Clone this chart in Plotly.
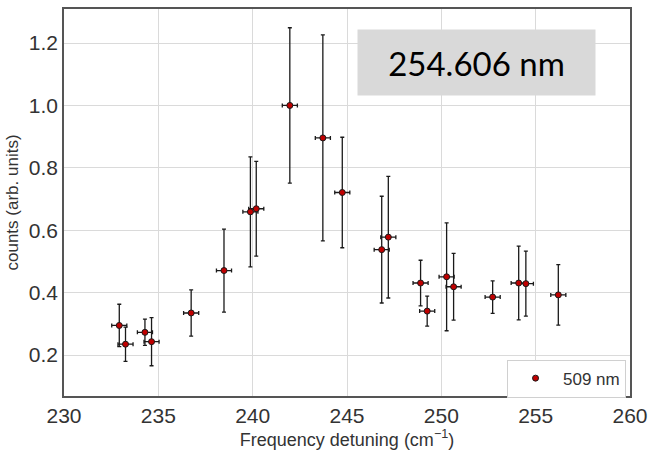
import plotly.graph_objects as go

# Data
detuning = [232.93, 233.26, 234.29, 234.64, 236.74, 238.48, 239.88, 240.19, 241.97,
            243.72, 244.75, 246.84, 247.19, 248.90, 249.25, 250.28, 250.65, 252.72,
            254.10, 254.48, 256.20]
counts = [0.295, 0.235, 0.273, 0.243, 0.335, 0.471, 0.659, 0.669, 1.000,
          0.896, 0.721, 0.538, 0.578, 0.431, 0.341, 0.451, 0.419, 0.386,
          0.431, 0.429, 0.393]
counts_err = [0.068, 0.055, 0.042, 0.077, 0.074, 0.133, 0.176, 0.152, 0.249,
              0.330, 0.177, 0.171, 0.195, 0.073, 0.048, 0.173, 0.107, 0.052,
              0.118, 0.104, 0.097]
detuning_err = [0.4] * len(detuning)

x_ticks = [230, 235, 240, 245, 250, 255, 260]
y_ticks = [0.2, 0.4, 0.6, 0.8, 1.0, 1.2]
series_name = "509 nm"
box_label = "254.606 nm"

FONT = "Liberation Sans, Arial, sans-serif"
TXT = "#333333"

fig = go.Figure()
fig.add_trace(go.Scatter(
    x=detuning, y=counts, mode="markers", name=series_name,
    marker=dict(color="#c00000", size=6, line=dict(color="#1a1a1a", width=1)),
    error_y=dict(type="data", array=counts_err, color="#1a1a1a", thickness=1.3, width=2),
    error_x=dict(type="data", array=detuning_err, color="#1a1a1a", thickness=1.3, width=2),
))

fig.update_layout(
    width=655, height=451,
    margin=dict(l=64, r=18, t=7, b=44),
    paper_bgcolor="white", plot_bgcolor="white",
    font=dict(family=FONT, color=TXT),
    showlegend=True,
    legend=dict(
        x=0.993, y=0.045, xanchor="right", yanchor="middle",
        bgcolor="white", bordercolor="#d0d0d0", borderwidth=1,
        font=dict(family=FONT, size=17, color=TXT),
        itemwidth=45,
    ),
    annotations=[dict(
        x=0.7286, y=0.861, xref="paper", yref="paper",
        xanchor="center", yanchor="middle",
        text=box_label, showarrow=False,
        font=dict(family="Lato, Open Sans, sans-serif", size=33, color="black"),
        bgcolor="#d9d9d9", borderpad=0, width=237, height=65,
    )],
)

fig.update_xaxes(
    range=[230, 260], tickvals=x_ticks, ticktext=[str(v) for v in x_ticks],
    showgrid=True, gridcolor="#dadada", gridwidth=1.2,
    showline=True, mirror=True, linecolor="#555555", linewidth=1.5,
    ticks="", zeroline=False,
    tickfont=dict(family=FONT, size=21, color=TXT),
    title=dict(text="Frequency detuning (cm<sup>−1</sup>)",
               font=dict(family=FONT, size=18, color=TXT), standoff=4),
)
fig.update_yaxes(
    range=[0.069, 1.309], tickvals=y_ticks, ticktext=[f"{v:.1f}" for v in y_ticks],
    showgrid=True, gridcolor="#dadada", gridwidth=1.2,
    showline=True, mirror=True, linecolor="#555555", linewidth=1.5,
    ticks="", zeroline=False,
    tickfont=dict(family=FONT, size=21, color=TXT),
    title=dict(text="counts (arb. units)",
               font=dict(family=FONT, size=17, color=TXT), standoff=6),
)

fig.write_html("out.html")
